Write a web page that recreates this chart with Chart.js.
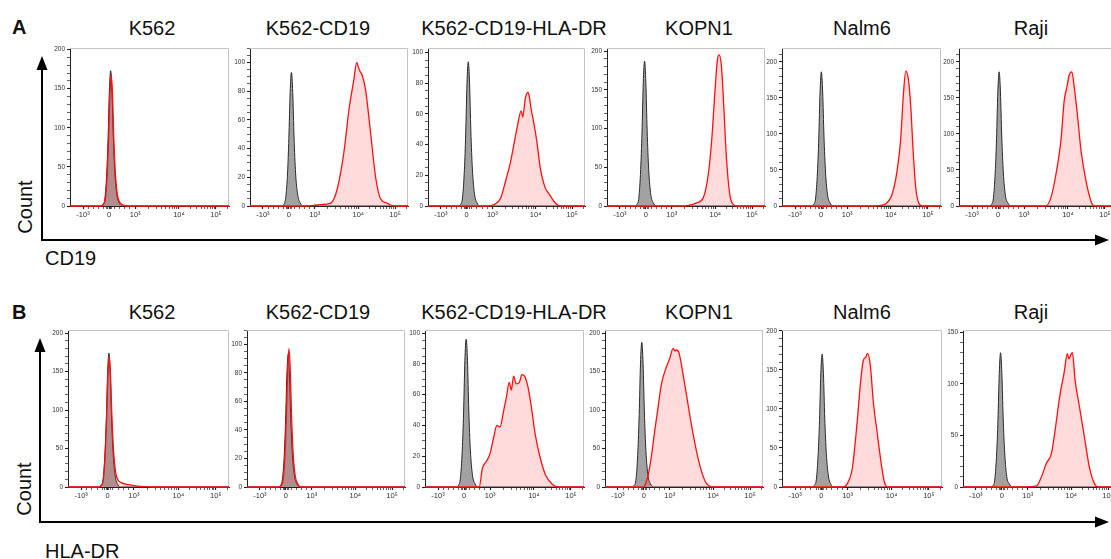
<!DOCTYPE html>
<html>
<head>
<meta charset="utf-8">
<script src="https://cdn.jsdelivr.net/npm/chart.js@4.4.1/dist/chart.umd.min.js"></script>
<style>
  html, body { margin:0; padding:0; background:#fff; width:1111px; height:559px; overflow:hidden; }
  body { position:relative; font-family:'Liberation Sans', Arial, sans-serif; color:#111; }
  .t { position:absolute; font-size:20px; white-space:nowrap; transform:translateX(-50%); line-height:1; }
  .lab { position:absolute; font-size:20px; white-space:nowrap; line-height:1; }
  .big { position:absolute; font-size:20px; font-weight:bold; line-height:1; }
  .rot { position:absolute; font-size:20px; line-height:1; transform:translate(-50%,-50%) rotate(-90deg); white-space:nowrap; }
  canvas { position:absolute; }
  svg { position:absolute; left:0; top:0; }
</style>
</head>
<body>
<svg width="1111" height="559">
  <line x1="42" y1="66" x2="42" y2="240" stroke="#000" stroke-width="2"/>
  <polygon points="42,56 36.5,70 47.5,70" fill="#000"/>
  <line x1="41" y1="240" x2="1098" y2="240" stroke="#000" stroke-width="2"/>
  <polygon points="1109,240 1095,234.5 1095,245.5" fill="#000"/>
  <line x1="40" y1="348" x2="40" y2="522" stroke="#000" stroke-width="2"/>
  <polygon points="40,338 34.5,352 45.5,352" fill="#000"/>
  <line x1="39" y1="522" x2="1098" y2="522" stroke="#000" stroke-width="2"/>
  <polygon points="1109,522 1095,516.5 1095,527.5" fill="#000"/>
</svg>
<div class="big" style="left:12px;top:17px;">A</div>
<div class="big" style="left:12px;top:302px;">B</div>
<div class="rot" style="left:25px;top:207px;">Count</div>
<div class="rot" style="left:24px;top:489px;">Count</div>
<div class="lab" style="left:45px;top:248px;">CD19</div>
<div class="lab" style="left:45px;top:541px;">HLA-DR</div>
<div id="titles"></div>

<script>
// ---------- labels ----------
const titles = ['K562', 'K562-CD19', 'K562-CD19-HLA-DR', 'KOPN1', 'Nalm6', 'Raji'];
const titleCenters = [152, 318, 514, 699, 862, 1031];

// ---------- x axis (display units of the biexponential scale) ----------
const xMin = -1.5, xMax = 4.6;
const xTickVals = [-1, 0, 1, 2.68, 4.1];
const xTickLabels = ['-10\u00B3', '0', '10\u00B3', '10\u2074', '10\u2075'];
const xMinorVals = [-0.8, -0.6, -0.4, -0.2, -0.1, -0.05, 0.05, 0.1, 0.2, 0.4, 0.6, 0.8,
  1.51, 1.80, 2.01, 2.17, 2.31, 2.42, 2.52, 2.60,
  3.11, 3.36, 3.53, 3.67, 3.78, 3.88, 3.96, 4.03, 4.53];

// ---------- row A: CD19 (points: [position, count]) ----------
const cd19_K562_ctrl = [[-1.5,0],[-0.34,0],[-0.24,2],[-0.16,10],[-0.09,43],[-0.04,87],[0.01,147],[0.06,173],[0.11,147],[0.16,90],[0.22,43],[0.3,14],[0.4,3],[0.51,0],[4.6,0]];
const cd19_K562_stain = [[-1.5,0],[-0.32,0],[-0.22,2],[-0.14,10],[-0.07,42],[-0.02,84],[0.03,143],[0.08,168],[0.13,143],[0.18,87],[0.24,42],[0.32,14],[0.42,4],[0.55,1],[0.7,0],[4.6,0]];
const cd19_K562CD19_ctrl = [[-1.5,0],[-0.3,0],[-0.2,1],[-0.12,6],[-0.05,23],[0,47],[0.05,79],[0.1,93],[0.15,79],[0.2,48],[0.26,23],[0.34,8],[0.44,2],[0.55,0],[4.6,0]];
const cd19_K562CD19_stain = [[-1.5,0],[0.7,0],[0.97,0.5],[1.23,1],[1.62,2],[1.87,12],[2.13,38],[2.32,67],[2.51,88],[2.62,100],[2.68,97],[2.74,94],[2.83,91],[2.96,81],[3.15,52],[3.35,20],[3.54,5],[3.79,2],[4.05,0],[4.6,0]];
const cd19_K562DR_ctrl = [[-1.5,0],[-0.33,0],[-0.235,1],[-0.155,6],[-0.085,24],[-0.035,47],[0.015,80],[0.065,94],[0.115,80],[0.165,49],[0.225,24],[0.305,8],[0.405,2],[0.5,0],[4.6,0]];
const cd19_K562DR_stain = [[-1.5,0],[0.81,0],[1.07,1],[1.32,5],[1.51,16],[1.71,29],[1.96,51],[2.12,62],[2.18,58],[2.28,70],[2.38,74],[2.43,72],[2.5,64],[2.6,55],[2.73,42],[2.86,25],[3.05,12],[3.2,8],[3.31,5],[3.5,1],[3.69,0],[4.6,0]];
const cd19_KOPN1_ctrl = [[-1.5,0],[-0.45,0],[-0.35,2],[-0.27,11],[-0.2,47],[-0.15,94],[-0.1,159],[-0.05,187],[0,159],[0.05,97],[0.11,47],[0.19,15],[0.29,4],[0.4,0],[4.6,0]];
const cd19_KOPN1_stain = [[-1.5,0],[1.5,0],[1.7,1],[1.96,4],[2.22,11],[2.41,41],[2.54,84],[2.67,149],[2.76,188],[2.83,195],[2.92,180],[3.01,128],[3.11,63],[3.24,15],[3.37,2],[3.5,0],[4.6,0]];
const cd19_Nalm6_ctrl = [[-1.5,0],[-0.39,0],[-0.29,2],[-0.21,11],[-0.14,47],[-0.09,93],[-0.04,158],[0.01,186],[0.06,158],[0.11,97],[0.17,47],[0.25,15],[0.35,4],[0.46,0],[4.6,0]];
const cd19_Nalm6_stain = [[-1.5,0],[2.1,0],[2.22,0.5],[2.48,3],[2.73,17],[2.92,50],[3.05,91],[3.16,156],[3.25,187],[3.35,175],[3.44,138],[3.53,77],[3.63,26],[3.76,3],[3.89,0],[4.6,0]];
const cd19_Raji_ctrl = [[-1.5,0],[-0.36,0],[-0.26,2],[-0.18,11],[-0.11,47],[-0.06,93],[-0.01,158],[0.04,186],[0.09,158],[0.14,97],[0.2,47],[0.28,15],[0.38,4],[0.49,0],[4.6,0]];
const cd19_Raji_stain = [[-1.5,0],[1.83,0],[2.03,12],[2.22,44],[2.41,91],[2.54,147],[2.64,165],[2.73,182],[2.83,186],[2.92,165],[3.05,124],[3.18,77],[3.37,35],[3.56,7],[3.69,0],[4.6,0]];

// ---------- row B: HLA-DR ----------
const dr_K562_ctrl = [[-1.5,0],[-0.35,0],[-0.25,2],[-0.17,10],[-0.1,44],[-0.05,87],[0,148],[0.05,174],[0.1,148],[0.15,90],[0.21,44],[0.29,14],[0.39,3],[0.5,0],[4.6,0]];
const dr_K562_stain = [[-1.5,0],[-0.34,0],[-0.24,2],[-0.16,10],[-0.09,42],[-0.04,85],[0.01,144],[0.06,169],[0.11,146],[0.16,95],[0.22,50],[0.3,20],[0.38,10],[0.5,6],[0.8,3],[1.05,1.5],[1.4,0.4],[1.8,0],[4.6,0]];
const dr_K562CD19_ctrl = [[-1.5,0],[-0.31,0],[-0.21,1],[-0.13,6],[-0.06,23],[-0.01,47],[0.04,79],[0.09,93],[0.14,79],[0.19,48],[0.25,23],[0.33,8],[0.43,2],[0.54,0],[4.6,0]];
const dr_K562CD19_stain = [[-1.5,0],[-0.28,0],[-0.18,1],[-0.1,6],[-0.03,24],[0.02,49],[0.07,82],[0.12,97],[0.17,82],[0.22,50],[0.28,24],[0.36,8],[0.46,2],[0.57,0],[4.6,0]];
const dr_K562DR_ctrl = [[-1.5,0],[-0.32,0],[-0.22,1],[-0.14,6],[-0.07,24],[-0.02,48],[0.03,82],[0.08,96],[0.13,82],[0.18,50],[0.24,24],[0.32,8],[0.42,2],[0.53,0],[4.6,0]];
const dr_K562DR_stain = [[-1.5,0],[0.58,0],[0.7,12],[0.87,17],[1.0,22],[1.13,32],[1.26,40],[1.38,39],[1.51,49],[1.62,58],[1.73,68],[1.81,63],[1.9,72],[2.0,67],[2.12,68],[2.22,73],[2.32,72],[2.45,65],[2.58,52],[2.73,34],[2.92,19],[3.12,8],[3.37,2],[3.63,0],[4.6,0]];
const dr_KOPN1_ctrl = [[-1.5,0],[-0.48,0],[-0.38,2],[-0.3,11],[-0.23,47],[-0.18,94],[-0.13,160],[-0.08,188],[-0.03,160],[0.02,98],[0.08,47],[0.16,15],[0.26,4],[0.37,0],[4.6,0]];
const dr_KOPN1_stain = [[-1.5,0],[0.0,0],[0.04,2],[0.17,16],[0.3,42],[0.42,73],[0.55,104],[0.68,134],[0.87,156],[1.0,167],[1.13,180],[1.2,177],[1.26,178],[1.36,174],[1.51,147],[1.64,121],[1.83,82],[2.03,47],[2.22,21],[2.41,5],[2.67,0],[4.6,0]];
const dr_Nalm6_ctrl = [[-1.5,0],[-0.37,0],[-0.27,2],[-0.19,10],[-0.12,43],[-0.07,85],[-0.02,145],[0.03,170],[0.08,145],[0.13,88],[0.19,43],[0.27,14],[0.37,3],[0.48,0],[4.6,0]];
const dr_Nalm6_stain = [[-1.5,0],[0.8,0],[1.0,5],[1.18,24],[1.37,85],[1.5,136],[1.6,162],[1.69,166],[1.76,171],[1.86,158],[1.99,106],[2.12,72],[2.27,33],[2.4,7],[2.53,0],[4.6,0]];
const dr_Raji_ctrl = [[-1.5,0],[-0.45,0],[-0.35,1],[-0.27,8],[-0.2,33],[-0.15,65],[-0.1,110],[-0.05,130],[0,110],[0.05,68],[0.11,33],[0.19,10],[0.29,3],[0.4,0],[4.6,0]];
const dr_Raji_stain = [[-1.5,0],[0.88,0],[1.33,1],[1.53,10],[1.72,23],[1.91,32],[2.04,52],[2.23,87],[2.4,110],[2.53,129],[2.59,124],[2.66,128],[2.72,130],[2.83,103],[3.0,77],[3.19,48],[3.38,19],[3.58,3],[3.71,0],[4.6,0]];

// ---------- y axes per panel: [max, major step, minor step] ----------
const yAxesA = [[202,50,10],[110,20,5],[103,20,5],[204,50,10],[219,50,10],[219,50,10]];
const yAxesB = [[204,50,10],[110,20,5],[102,20,5],[204,50,10],[201,50,10],[152,50,10]];

// ---------- layout ----------
const boxesA = [[70,229],[250,408],[428,585],[607,765],[782,941],[959,1118]];
const boxesB = [[68,229],[247,405],[425,584],[605,763],[782,942],[963,1121]];
const rowA = { top:48, bottom:206, titleTop:18 };
const rowB = { top:330, bottom:487, titleTop:302 };

const seriesA = [[cd19_K562_stain,cd19_K562_ctrl],[cd19_K562CD19_stain,cd19_K562CD19_ctrl],[cd19_K562DR_stain,cd19_K562DR_ctrl],[cd19_KOPN1_stain,cd19_KOPN1_ctrl],[cd19_Nalm6_stain,cd19_Nalm6_ctrl],[cd19_Raji_stain,cd19_Raji_ctrl]];
const seriesB = [[dr_K562_stain,dr_K562_ctrl],[dr_K562CD19_stain,dr_K562CD19_ctrl],[dr_K562DR_stain,dr_K562DR_ctrl],[dr_KOPN1_stain,dr_KOPN1_ctrl],[dr_Nalm6_stain,dr_Nalm6_ctrl],[dr_Raji_stain,dr_Raji_ctrl]];

// titles
const tdiv = document.getElementById('titles');
[rowA, rowB].forEach(row => {
  titles.forEach((t, i) => {
    const d = document.createElement('div');
    d.className = 't';
    d.style.left = titleCenters[i] + 'px';
    d.style.top = row.titleTop + 'px';
    d.textContent = t;
    tdiv.appendChild(d);
  });
});

const frame = {
  id: 'frame',
  beforeDatasetsDraw(chart) {
    const a = chart.chartArea, c = chart.ctx;
    c.save();
    c.strokeStyle = '#c4c4c4';
    c.lineWidth = 1;
    c.beginPath();
    c.moveTo(a.left, a.top + 0.5);
    c.lineTo(a.right - 0.5, a.top + 0.5);
    c.lineTo(a.right - 0.5, a.bottom);
    c.stroke();
    c.restore();
  }
};

const PADL = 32, PADB = 24, PADT = 6, PADR = 6;
const majorX = new Set(xTickVals);

function makePanel(box, row, yCfg, pair) {
  const [left, right] = box;
  const cv = document.createElement('canvas');
  const W = right - left + PADL + PADR;
  const H = row.bottom - row.top + PADT + PADB;
  cv.width = W; cv.height = H;
  cv.style.width = W + 'px'; cv.style.height = H + 'px';
  cv.style.left = (left - PADL) + 'px';
  cv.style.top = (row.top - PADT) + 'px';
  document.body.appendChild(cv);
  const [ymax, major, minor] = yCfg;
  const toXY = arr => arr.map(p => ({x: p[0], y: p[1]}));
  new Chart(cv, {
    type: 'line',
    data: {
      datasets: [
        { data: toXY(pair[0]), borderColor: '#ff1010', borderWidth: 1.3, backgroundColor: 'rgba(255,40,40,0.17)',
          fill: 'origin', pointRadius: 0, cubicInterpolationMode: 'monotone', clip: false },
        { data: toXY(pair[1]), borderColor: '#2a2a2a', borderWidth: 1, backgroundColor: '#a2a2a2',
          fill: 'origin', pointRadius: 0, cubicInterpolationMode: 'monotone', clip: false }
      ]
    },
    options: {
      responsive: false, animation: false, devicePixelRatio: 1,
      layout: { padding: { top: PADT, right: PADR, left: 0, bottom: 0 } },
      plugins: { legend: { display: false }, tooltip: { enabled: false } },
      events: [],
      scales: {
        x: {
          type: 'linear', min: xMin, max: xMax,
          afterFit: s => { s.height = PADB; },
          afterBuildTicks: s => {
            s.ticks = xTickVals.concat(xMinorVals).sort((a, b) => a - b).map(v => ({ value: v }));
          },
          ticks: {
            autoSkip: false, maxRotation: 0, minRotation: 0, padding: 1,
            color: '#333', font: { size: 7.5, family: 'Liberation Sans, Arial' },
            callback: v => { const i = xTickVals.indexOf(v); return i >= 0 ? xTickLabels[i] : ''; }
          },
          grid: { drawOnChartArea: false, drawTicks: true, tickLength: 3, color: '#222',
            tickWidth: ctx => (ctx.tick && majorX.has(ctx.tick.value)) ? 1.2 : 0.7 },
          border: { display: true, color: '#222', width: 1 }
        },
        y: {
          type: 'linear', min: 0, max: ymax,
          afterFit: s => { s.width = PADL; },
          afterBuildTicks: s => {
            const t = [];
            for (let v = 0; v <= ymax; v += minor) t.push({ value: v });
            s.ticks = t;
          },
          ticks: {
            autoSkip: false, padding: 2, color: '#333',
            font: { size: 6.5, family: 'Liberation Sans, Arial' },
            callback: v => (v % major === 0) ? String(v) : ''
          },
          grid: { drawOnChartArea: false, drawTicks: true, tickLength: 3, color: '#222',
            tickWidth: ctx => (ctx.tick && ctx.tick.value % major === 0) ? 1.1 : 0.7 },
          border: { display: true, color: '#222', width: 1 }
        }
      }
    },
    plugins: [frame]
  });
}

boxesA.forEach((b, i) => makePanel(b, rowA, yAxesA[i], seriesA[i]));
boxesB.forEach((b, i) => makePanel(b, rowB, yAxesB[i], seriesB[i]));
</script>
</body>
</html>
